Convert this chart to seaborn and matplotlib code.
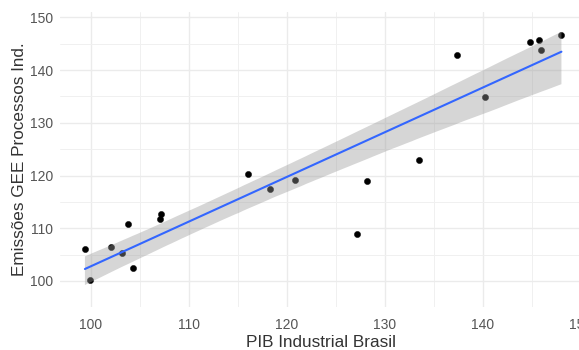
import numpy as np
import pandas as pd
import seaborn as sns
import matplotlib
matplotlib.use("Agg")
import matplotlib.pyplot as plt
from matplotlib.ticker import MultipleLocator

# Data
pib = [99.4, 99.9, 102.1, 103.2, 103.8, 104.3, 107.2, 107.1, 116.0, 118.3,
       120.8, 127.2, 128.2, 133.5, 137.4, 140.2, 144.8, 145.7, 145.9, 148.0]
emissoes = [106.0, 100.2, 106.5, 105.3, 110.8, 102.4, 112.7, 111.7, 120.3, 117.5,
            119.2, 108.9, 119.0, 123.0, 142.9, 134.8, 145.4, 145.7, 143.8, 146.6]
x_label = "PIB Industrial Brasil"
y_label = "Emissões GEE Processos Ind."
x_ticks = [100, 110, 120, 130, 140, 150]
y_ticks = [100, 110, 120, 130, 140, 150]

df = pd.DataFrame({"pib": pib, "emissoes": emissoes})

sns.set_theme(style="white")
plt.rcParams["font.family"] = ["Liberation Sans", "DejaVu Sans"]

fig = plt.figure(figsize=(5.79, 3.5), dpi=100)
ax = fig.add_axes([60 / 579, 43 / 350, 523 / 579, 295 / 350])

sns.scatterplot(data=df, x="pib", y="emissoes", ax=ax, color="black",
                s=20, edgecolor="black", linewidth=0.3, zorder=3)
sns.regplot(data=df, x="pib", y="emissoes", ax=ax, scatter=False,
            color="#3366FF", ci=95, n_boot=4000, seed=3,
            line_kws={"linewidth": 1.5, "zorder": 5})
for coll in ax.collections:
    if isinstance(coll, matplotlib.collections.PolyCollection):
        coll.set_facecolor((0.6, 0.6, 0.6))
        coll.set_alpha(0.4)
        coll.set_edgecolor("none")
        coll.set_zorder(4)

ax.set_xlim(96.86, 150.2)
ax.set_ylim(95.07, 151.0)
ax.set_xticks(x_ticks)
ax.set_yticks(y_ticks)
ax.set_xticklabels([str(t) for t in x_ticks])
ax.set_yticklabels([str(t) for t in y_ticks])
ax.xaxis.set_minor_locator(MultipleLocator(5))
ax.yaxis.set_minor_locator(MultipleLocator(5))
ax.grid(True, which="major", color="#EBEBEB", linewidth=1.0, zorder=0)
ax.grid(True, which="minor", color="#F0F0F0", linewidth=0.7, zorder=0)
ax.set_axisbelow(True)
for sp in ax.spines.values():
    sp.set_visible(False)
ax.tick_params(axis="both", which="both", length=0, labelsize=10,
               labelcolor="#555555")
ax.tick_params(axis="x", pad=8)
ax.tick_params(axis="y", pad=5)
ax.set_xlabel(x_label, fontsize=12.3, color="#333333", labelpad=2)
ax.set_ylabel(y_label, fontsize=12.3, color="#333333", labelpad=2)
ax.set_facecolor("white")
fig.patch.set_facecolor("white")

fig.savefig("out.png", dpi=100)
